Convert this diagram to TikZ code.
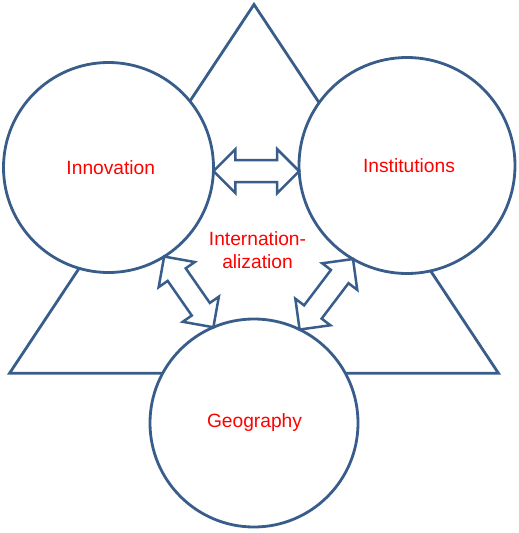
\documentclass[tikz,border=0pt]{standalone}
\usepackage{fontspec}
\setmainfont{Liberation Sans}
\usetikzlibrary{calc}
\definecolor{outl}{HTML}{385D8A}
\definecolor{txt}{HTML}{FF0000}
\tikzset{
  shapeline/.style={draw=outl, line width=2.8pt, line join=miter},
  bigcircle/.style={shapeline, circle, fill=white, inner sep=0pt, outer sep=0pt},
  arrowline/.style={shapeline, fill=white, line width=2.5pt},
  lbl/.style={font=\fontsize{19.2}{23}\selectfont, text=txt, align=center, inner sep=0pt}
}
\newcommand{\dblarrow}[2]{%
  \path ($(#1)!22pt!(#2)$) coordinate (ha) ($(#2)!22pt!(#1)$) coordinate (hb);
  \draw[arrowline] (#1) -- ($(ha)!22pt!90:(#2)$) -- ($(ha)!11pt!90:(#2)$)
    -- ($(hb)!11pt!-90:(#1)$) -- ($(hb)!22pt!-90:(#1)$) -- (#2)
    -- ($(hb)!22pt!90:(#1)$) -- ($(hb)!11pt!90:(#1)$)
    -- ($(ha)!11pt!-90:(#2)$) -- ($(ha)!22pt!-90:(#2)$) -- cycle;}
\begin{document}
\begin{tikzpicture}[x=1pt,y=-1pt]
\useasboundingbox (0,0) rectangle (519,533);
\coordinate (tA) at (254,4.5);
\coordinate (tB) at (9.5,373.3);
\coordinate (tC) at (498.5,373.3);
\draw[shapeline] (tA) -- (tB) -- (tC) -- cycle;
\node[bigcircle, minimum size=210pt] (inn) at (108.5,167.5) {};
\node[bigcircle, minimum size=216pt] (ins) at (407,165.5) {};
\node[bigcircle, minimum size=208pt] (geo) at (254,423) {};
\node[lbl] (innt) at (110.8,168) {Innovation};
\node[lbl] (inst) at (409,166) {Institutions};
\node[lbl] (geot) at (254.5,423) {Geography};
\node[lbl] (intl) at (257.5,250) {Internation-\\alization};
\coordinate (a1) at (inn.-2.7);
\coordinate (a2) at (ins.183.7);
\coordinate (b1) at (inn.-58.8);
\coordinate (b2) at (geo.113.5);
\coordinate (c1) at (ins.240.1);
\coordinate (c2) at (geo.64.8);
\dblarrow{a1}{a2}
\dblarrow{b1}{b2}
\dblarrow{c1}{c2}
\end{tikzpicture}
\end{document}
